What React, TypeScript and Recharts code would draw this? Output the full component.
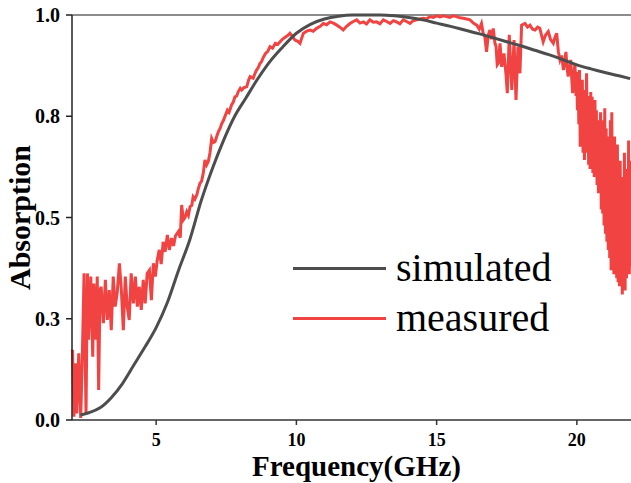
import React from "react"
import { LineChart, Line, XAxis, YAxis, ReferenceLine, Legend } from "recharts"

// simulated absorption (smooth curve)
const simFreq = [2.3, 2.6, 3.0, 3.4, 3.8, 4.2, 4.6, 5.0, 5.4, 5.8, 6.2, 6.6, 7.0, 7.4, 7.8, 8.2, 8.6, 9.0, 9.5, 10.0, 10.5, 11.0, 11.5, 12.0, 12.5, 13.0, 13.5, 14.0, 14.5, 15.0, 15.5, 16.0, 16.5, 17.0, 17.5, 18.0, 18.5, 19.0, 19.5, 20.0, 20.5, 21.0, 21.5, 21.9]
const simAbs = [0.012, 0.018, 0.03, 0.055, 0.09, 0.135, 0.18, 0.228, 0.29, 0.37, 0.445, 0.54, 0.62, 0.69, 0.75, 0.795, 0.84, 0.88, 0.92, 0.955, 0.977, 0.99, 0.997, 1.0, 1.0, 1.0, 0.998, 0.994, 0.988, 0.98, 0.972, 0.963, 0.954, 0.944, 0.934, 0.924, 0.913, 0.902, 0.89, 0.877, 0.867, 0.858, 0.85, 0.843]

// measured absorption (noisy trace)
const measFreq = [
  2.0, 2.02, 2.07, 2.12, 2.17, 2.24, 2.31, 2.36, 2.43, 2.5, 2.55, 2.59, 2.67, 2.74, 2.78, 2.86, 2.9, 2.95, 3.0, 3.04,
  3.12, 3.19, 3.26, 3.33, 3.4, 3.47, 3.54, 3.61, 3.69, 3.76, 3.83, 3.9, 3.97, 4.04, 4.11, 4.19, 4.26, 4.33, 4.4, 4.47,
  4.54, 4.61, 4.68, 4.76, 4.83, 4.9, 4.97, 5.04, 5.11, 5.18, 5.25, 5.32, 5.4, 5.47, 5.55, 5.62, 5.69, 5.79, 5.86, 5.91,
  5.97, 6.03, 6.09, 6.15, 6.21, 6.27, 6.32, 6.38, 6.45, 6.5, 6.56, 6.62, 6.68, 6.74, 6.8, 6.86, 6.92, 6.98, 7.04, 7.1,
  7.16, 7.22, 7.28, 7.34, 7.4, 7.45, 7.54, 7.6, 7.69, 7.75, 7.81, 7.87, 7.93, 8.0, 8.05, 8.12, 8.23, 8.3, 8.35, 8.46,
  8.52, 8.58, 8.64, 8.7, 8.76, 8.82, 8.9, 8.98, 9.06, 9.15, 9.25, 9.34, 9.42, 9.5, 9.6, 9.7, 9.77, 9.85, 9.95, 10.05,
  10.13, 10.2, 10.25, 10.37, 10.49, 10.6, 10.72, 10.85, 10.96, 11.08, 11.2, 11.32, 11.44, 11.55, 11.67, 11.79, 11.91, 12.03, 12.15, 12.27,
  12.39, 12.5, 12.62, 12.74, 12.86, 12.98, 13.1, 13.22, 13.34, 13.46, 13.57, 13.69, 13.81, 13.93, 14.05, 14.17, 14.29, 14.4, 14.52, 14.64,
  14.76, 14.88, 15.0, 15.12, 15.24, 15.35, 15.47, 15.59, 15.71, 15.83, 15.95, 16.07, 16.19, 16.31, 16.43, 16.52, 16.6, 16.66, 16.72, 16.78,
  16.84, 16.9, 16.96, 17.02, 17.08, 17.12, 17.16, 17.2, 17.26, 17.32, 17.4, 17.47, 17.52, 17.59, 17.68, 17.76, 17.83, 17.9, 17.97, 18.03,
  18.15, 18.24, 18.33, 18.42, 18.51, 18.6, 18.68, 18.74, 18.8, 18.88, 18.98, 19.06, 19.16, 19.22, 19.28, 19.34, 19.4, 19.46, 19.52, 19.56,
  19.61, 19.65, 19.69, 19.74, 19.78, 19.82, 19.85, 19.89, 19.93, 19.97,
  19.995, 20.02, 20.045, 20.07, 20.095, 20.12, 20.145, 20.17, 20.195, 20.22, 20.245, 20.27, 20.295, 20.32, 20.345, 20.37, 20.395, 20.42, 20.445, 20.47,
  20.495, 20.52, 20.545, 20.57, 20.595, 20.62, 20.645, 20.67, 20.695, 20.72, 20.745, 20.77, 20.795, 20.82, 20.845, 20.87, 20.895, 20.92, 20.945, 20.97,
  20.995, 21.02, 21.045, 21.07, 21.095, 21.12, 21.145, 21.17, 21.195, 21.22, 21.245, 21.27, 21.295, 21.32, 21.345, 21.37, 21.395, 21.42, 21.445, 21.47,
  21.495, 21.52, 21.545, 21.57, 21.595, 21.62, 21.645, 21.67, 21.695, 21.72, 21.745, 21.77, 21.795, 21.82, 21.845, 21.87, 21.895, 21.92,
]
const measAbs = [
  0.17, 0.173, 0.008, 0.14, 0.016, 0.165, 0.005, 0.132, 0.362, 0.016, 0.362, 0.198, 0.354, 0.156, 0.337, 0.198, 0.354, 0.074, 0.321, 0.329,
  0.239, 0.346, 0.247, 0.321, 0.222, 0.354, 0.28, 0.313, 0.387, 0.321, 0.222, 0.354, 0.28, 0.247, 0.362, 0.288, 0.354, 0.28, 0.329, 0.272,
  0.346, 0.288, 0.362, 0.37, 0.296, 0.387, 0.354, 0.395, 0.42, 0.385, 0.44, 0.415, 0.457, 0.42, 0.449, 0.43, 0.455, 0.465, 0.45, 0.531,
  0.494, 0.5, 0.514, 0.505, 0.527, 0.53, 0.551, 0.545, 0.556, 0.57, 0.584, 0.59, 0.609, 0.642, 0.63, 0.638, 0.66, 0.695, 0.685, 0.687,
  0.7, 0.712, 0.72, 0.732, 0.74, 0.749, 0.765, 0.76, 0.778, 0.785, 0.798, 0.8, 0.811, 0.819, 0.815, 0.82, 0.823, 0.84, 0.848, 0.844,
  0.855, 0.864, 0.87, 0.88, 0.885, 0.895, 0.905, 0.91, 0.922, 0.918, 0.93, 0.928, 0.934, 0.94, 0.945, 0.95, 0.955, 0.948, 0.938, 0.935,
  0.93, 0.945, 0.955, 0.96, 0.963, 0.96, 0.967, 0.972, 0.979, 0.976, 0.983, 0.98, 0.975, 0.97, 0.963, 0.972, 0.979, 0.984, 0.988, 0.98,
  0.983, 0.978, 0.988, 0.982, 0.983, 0.978, 0.988, 0.984, 0.979, 0.986, 0.983, 0.978, 0.988, 0.984, 0.979, 0.986, 0.988, 0.99, 0.992, 0.99,
  0.996, 0.994, 0.998, 0.995, 0.998, 0.996, 0.994, 0.998, 0.996, 0.993, 0.992, 0.99, 0.988, 0.98, 0.975, 0.965, 0.979, 0.955, 0.946, 0.909,
  0.95, 0.963, 0.94, 0.967, 0.93, 0.922, 0.877, 0.881, 0.93, 0.872, 0.905, 0.856, 0.807, 0.951, 0.815, 0.938, 0.79, 0.922, 0.856, 0.975,
  0.979, 0.97, 0.975, 0.965, 0.963, 0.97, 0.967, 0.95, 0.934, 0.95, 0.959, 0.94, 0.93, 0.945, 0.955, 0.91, 0.889, 0.9, 0.864, 0.88,
  0.909, 0.87, 0.848, 0.87, 0.889, 0.84, 0.807, 0.85, 0.881, 0.8,
  0.86, 0.765, 0.85, 0.73, 0.864, 0.675, 0.8, 0.7, 0.84, 0.66, 0.815, 0.642, 0.78, 0.66, 0.856, 0.69, 0.8, 0.63, 0.78, 0.62,
  0.81, 0.65, 0.798, 0.61, 0.76, 0.6, 0.79, 0.62, 0.765, 0.58, 0.74, 0.56, 0.72, 0.59, 0.76, 0.52, 0.74, 0.51, 0.7, 0.48,
  0.77, 0.46, 0.72, 0.44, 0.65, 0.42, 0.7, 0.4, 0.74, 0.37, 0.76, 0.39, 0.66, 0.36, 0.7, 0.38, 0.62, 0.35, 0.68, 0.34,
  0.6, 0.33, 0.64, 0.36, 0.58, 0.31, 0.6, 0.33, 0.66, 0.32, 0.57, 0.35, 0.62, 0.37, 0.69, 0.36, 0.64, 0.38,
]

const xTicks = [5, 10, 15, 20]
const yTicks = [0, 0.25, 0.5, 0.75, 1.0]

const seriesNames = ["simulated", "measured"]
const seriesColors = ["#4d4d4d", "#f24343"]

const simulatedData = simFreq.map((f, i) => ({ f, a: simAbs[i] }))
const measuredData = measFreq.map((f, i) => ({ f, a: measAbs[i] }))

const serif = "'Liberation Serif', 'Times New Roman', serif"
const yTickStyle = { fill: "#000", fontSize: 20, fontWeight: "bold", fontFamily: serif }
const xTickStyle = { fill: "#000", fontSize: 18, fontWeight: "bold", fontFamily: serif }

function LegendBox() {
  return (
    <div style={{ fontFamily: serif, fontSize: 40, lineHeight: "50px", color: "#000" }}>
      {seriesNames.map((name, i) => (
        <div key={name} style={{ display: "flex", alignItems: "center", whiteSpace: "nowrap" }}>
          <span style={{ display: "inline-block", width: 93, height: 3, background: seriesColors[i], marginRight: 10 }} />
          <span>{name}</span>
        </div>
      ))}
    </div>
  )
}

export default function App() {
  return (
    <div style={{ position: "absolute", left: 0, top: 0, width: 631, height: 483, overflow: "hidden", background: "#fff" }}>
      <LineChart width={631} height={483} margin={{ top: 15, right: 0, bottom: 0, left: 0 }}>
        <XAxis
          dataKey="f"
          type="number"
          domain={[2, 21.93]}
          ticks={xTicks}
          height={63}
          tickSize={5}
          tickMargin={8}
          tick={xTickStyle}
          axisLine={{ stroke: "#333", strokeWidth: 1.5 }}
          tickLine={{ stroke: "#333", strokeWidth: 1.5 }}
          label={{ value: "Frequency(GHz)", position: "insideBottom", offset: 7, dx: 5, fill: "#000", fontSize: 29, fontWeight: "bold", fontFamily: serif }}
        />
        <YAxis
          type="number"
          domain={[0, 1]}
          ticks={yTicks}
          width={72}
          tickSize={6}
          tickMargin={6}
          tick={yTickStyle}
          tickFormatter={(v: number) => v.toFixed(1)}
          axisLine={{ stroke: "#222", strokeWidth: 1.5 }}
          tickLine={{ stroke: "#222", strokeWidth: 1.5 }}
          label={{ value: "Absorption", angle: -90, position: "insideLeft", offset: 19, fill: "#000", fontSize: 30, fontWeight: "bold", fontFamily: serif, style: { textAnchor: "middle" } }}
        />
        <ReferenceLine y={1} stroke="#666" strokeWidth={1.5} />
        <Legend
          layout="vertical"
          verticalAlign="middle"
          align="center"
          content={() => <LegendBox />}
          wrapperStyle={{ top: 243, left: 293, width: 280, height: 100 }}
        />
        <Line
          data={measuredData}
          dataKey="a"
          name="measured"
          type="linear"
          stroke={seriesColors[1]}
          strokeWidth={3}
          dot={false}
          isAnimationActive={false}
        />
        <Line
          data={simulatedData}
          dataKey="a"
          name="simulated"
          type="monotone"
          stroke={seriesColors[0]}
          strokeWidth={3}
          dot={false}
          isAnimationActive={false}
        />
      </LineChart>
    </div>
  )
}
